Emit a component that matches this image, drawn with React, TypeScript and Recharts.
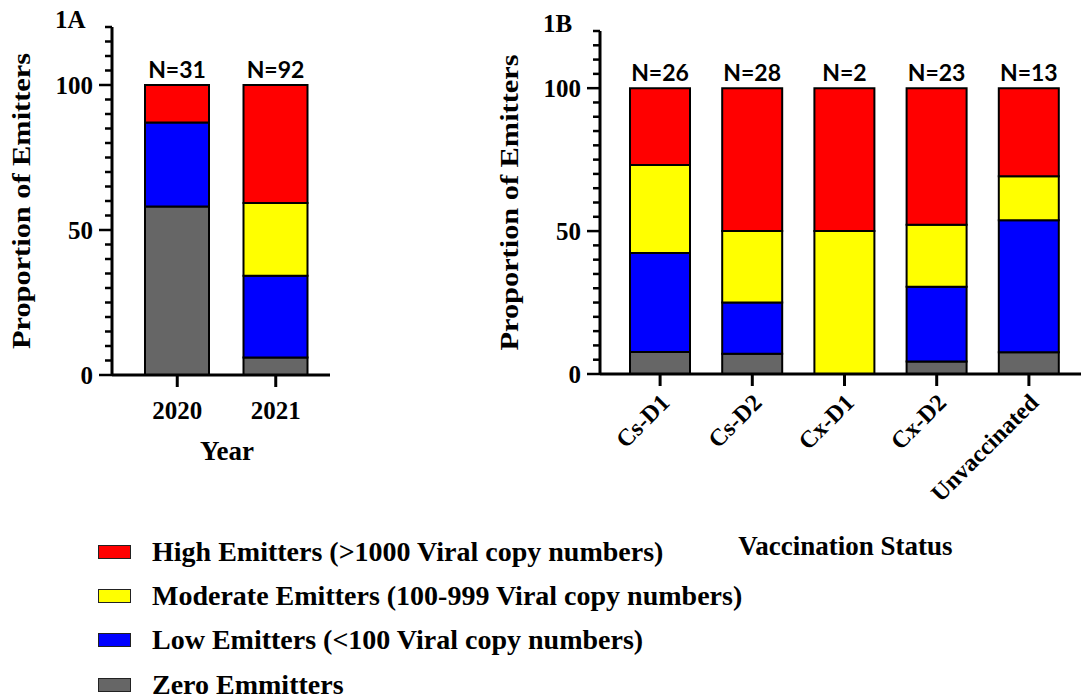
import React from 'react';
import { BarChart, Bar, XAxis, YAxis, Legend, LabelList } from 'recharts';

const SERIF = "'Liberation Serif', 'Times New Roman', serif";
const SANS = "Lato, 'Open Sans', sans-serif";

// Panel 1A: by year
const yearCategories = ['2020', '2021'];
const yearSampleSizes = [31, 92];
const yearZero = [58.1, 6.0];
const yearLow = [29.0, 28.2];
const yearModerate = [0, 25.1];
const yearHigh = [12.9, 40.7];

// Panel 1B: by vaccination status
const vaccCategories = ['Cs-D1', 'Cs-D2', 'Cx-D1', 'Cx-D2', 'Unvaccinated'];
const vaccSampleSizes = [26, 28, 2, 23, 13];
const vaccZero = [7.7, 7.1, 0, 4.4, 7.6];
const vaccLow = [34.6, 17.9, 0, 26.1, 46.2];
const vaccModerate = [30.8, 25.0, 50.0, 21.7, 15.4];
const vaccHigh = [26.9, 50.0, 50.0, 47.8, 30.8];

const yTicks = [0, 5, 10, 15, 20, 25, 30, 35, 40, 45, 50, 55, 60, 65, 70, 75, 80, 85, 90, 95, 100, 105, 110, 115, 120];
const yLabelTicks = [0, 50, 100];

const seriesKeys = ['zero', 'low', 'moderate', 'high'];
const legendOrder = ['high', 'moderate', 'low', 'zero'];
const seriesNames: Record<string, string> = {
  high: 'High Emitters (>1000 Viral copy numbers)',
  moderate: 'Moderate Emitters (100-999 Viral copy numbers)',
  low: 'Low Emitters (<100 Viral copy numbers)',
  zero: 'Zero Emmitters',
};
const seriesColors: Record<string, string> = {
  high: '#FF0000',
  moderate: '#FFFF00',
  low: '#0000FF',
  zero: '#666666',
};

const yearData = yearCategories.map((c, i) => ({
  category: c,
  n: yearSampleSizes[i],
  zero: yearZero[i],
  low: yearLow[i],
  moderate: yearModerate[i],
  high: yearHigh[i],
}));

const vaccData = vaccCategories.map((c, i) => ({
  category: c,
  n: vaccSampleSizes[i],
  zero: vaccZero[i],
  low: vaccLow[i],
  moderate: vaccModerate[i],
  high: vaccHigh[i],
}));

const YTick = (props: any) => {
  const { x, y, payload } = props;
  const v = payload.value;
  const major = yLabelTicks.includes(v);
  const len = major ? 13 : 7;
  return (
    <g>
      <line x1={x} x2={x - len} y1={y} y2={y} stroke="#000" strokeWidth={2.5} />
      {major && (
        <text
          x={x - 19}
          y={y}
          dy="0.34em"
          textAnchor="end"
          fontFamily={SERIF}
          fontWeight="bold"
          fontSize={25}
          fill="#000"
        >
          {v}
        </text>
      )}
    </g>
  );
};

const VaccTick = (props: any) => {
  const { x, y, payload } = props;
  const tx = x + 5;
  const ty = y + 2;
  return (
    <text
      x={tx}
      y={ty}
      dy="0.35em"
      transform={`rotate(-45, ${tx}, ${ty})`}
      textAnchor="end"
      fontFamily={SERIF}
      fontWeight="bold"
      fontSize={24}
      fill="#000"
    >
      {payload.value}
    </text>
  );
};

const makeYTitle = (panel: string) => (p: any) => {
  const vb = p.viewBox ?? p;
  const axisX = vb.x + vb.width;
  const bx = axisX - 82;
  const cy = vb.y + vb.height / 2;
  return (
    <g>
      <text
        x={bx}
        y={cy}
        transform={`rotate(-90, ${bx}, ${cy})`}
        textAnchor="middle"
        fontFamily={SERIF}
        fontWeight="bold"
        fontSize={25}
        textLength={296}
        lengthAdjust="spacingAndGlyphs"
        fill="#000"
      >
        Proportion of Emitters
      </text>
      <text
        x={axisX - 57}
        y={vb.y + 1}
        fontFamily={SERIF}
        fontWeight="bold"
        fontSize={25}
        fill="#000"
      >
        {panel}
      </text>
    </g>
  );
};

const makeXTitle = (text: string, baseline: number, dx: number) => (p: any) => {
  const vb = p.viewBox ?? p;
  return (
    <text
      x={vb.x + vb.width / 2 + dx}
      y={vb.y + baseline}
      textAnchor="middle"
      fontFamily={SERIF}
      fontWeight="bold"
      fontSize={27}
      fill="#000"
    >
      {text}
    </text>
  );
};

const renderN = (p: any) => {
  const { x, y, width, value } = p;
  return (
    <text
      x={x + width / 2}
      y={y - 7}
      textAnchor="middle"
      fontFamily={SANS}
      fontWeight="bold"
      fontSize={23}
      fill="#000"
    >
      {`N=${value}`}
    </text>
  );
};

const renderLegend = (props: any) => {
  const items = [...(props.payload || [])].sort(
    (a: any, b: any) => legendOrder.indexOf(a.dataKey) - legendOrder.indexOf(b.dataKey)
  );
  return (
    <div>
      {items.map((it: any) => (
        <div
          key={it.dataKey}
          style={{ display: 'flex', alignItems: 'center', height: 44.2 }}
        >
          <span
            style={{
              display: 'inline-block',
              width: 31,
              height: 12,
              background: it.color,
              border: '1.5px solid #222',
              marginRight: 21,
            }}
          />
          <span
            style={{
              fontFamily: SERIF,
              fontWeight: 'bold',
              fontSize: 28,
              lineHeight: 1,
              color: '#000',
              whiteSpace: 'nowrap',
            }}
          >
            {it.value}
          </span>
        </div>
      ))}
    </div>
  );
};

const renderBars = () =>
  seriesKeys.map((k) => (
    <Bar
      key={k}
      dataKey={k}
      name={seriesNames[k]}
      stackId="s"
      fill={seriesColors[k]}
      stroke="#000"
      strokeWidth={2}
      isAnimationActive={false}
    >
      {k === 'high' && <LabelList dataKey="n" content={renderN} />}
    </Bar>
  ));

export default function App() {
  return (
    <div
      style={{
        position: 'absolute',
        left: 0,
        top: 0,
        width: 1081,
        height: 700,
        background: '#fff',
        overflow: 'hidden',
      }}
    >
      <div style={{ position: 'absolute', left: 0, top: 0 }}>
        <BarChart
          width={480}
          height={700}
          data={yearData}
          margin={{ top: 27, right: 150, bottom: 235, left: 0 }}
          barSize={64}
        >
          <XAxis
            dataKey="category"
            height={90}
            padding={{ left: 16, right: 5 }}
            axisLine={{ stroke: '#000', strokeWidth: 3 }}
            tickLine={{ stroke: '#000', strokeWidth: 3 }}
            tickSize={12}
            tickMargin={14}
            tick={{ fontSize: 25, fontWeight: 'bold', fontFamily: SERIF, fill: '#000' }}
            label={{ content: makeXTitle('Year', 85, 6) }}
          />
          <YAxis
            width={112}
            domain={[0, 120]}
            ticks={yTicks}
            interval={0}
            tickSize={0}
            tickMargin={0}
            tickLine={false}
            axisLine={{ stroke: '#000', strokeWidth: 3 }}
            tick={(p: any) => <YTick {...p} />}
            label={{ content: makeYTitle('1A') }}
          />
          {renderBars()}
          <Legend
            layout="vertical"
            align="center"
            verticalAlign="middle"
            wrapperStyle={{ left: 98, top: 530, width: 700 }}
            content={renderLegend}
          />
        </BarChart>
      </div>
      <div style={{ position: 'absolute', left: 480, top: 0 }}>
        <BarChart
          width={601}
          height={700}
          data={vaccData}
          margin={{ top: 31, right: 0, bottom: 140, left: 0 }}
          barSize={60}
        >
          <XAxis
            dataKey="category"
            height={186}
            padding={{ left: 14, right: 6 }}
            axisLine={{ stroke: '#000', strokeWidth: 3 }}
            tickLine={{ stroke: '#000', strokeWidth: 3 }}
            tickSize={12}
            tickMargin={10}
            interval={0}
            tick={(p: any) => <VaccTick {...p} />}
            label={{ content: makeXTitle('Vaccination Status', 181, 5) }}
          />
          <YAxis
            width={120}
            domain={[0, 120]}
            ticks={yTicks}
            interval={0}
            tickSize={0}
            tickMargin={0}
            tickLine={false}
            axisLine={{ stroke: '#000', strokeWidth: 3 }}
            tick={(p: any) => <YTick {...p} />}
            label={{ content: makeYTitle('1B') }}
          />
          {renderBars()}
        </BarChart>
      </div>
    </div>
  );
}
